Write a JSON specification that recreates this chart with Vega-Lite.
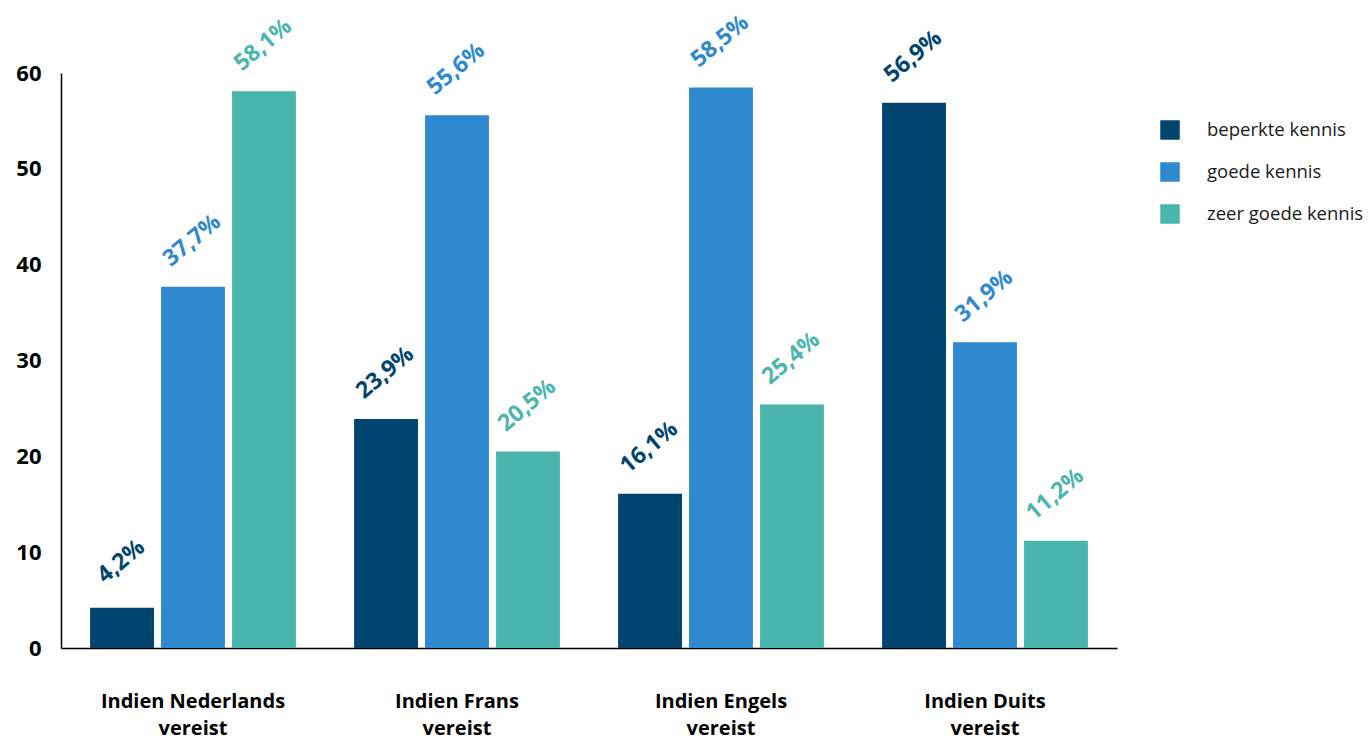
{
  "$schema": "https://vega.github.io/schema/vega-lite/v6.json",
  "width": 1056,
  "height": 575,
  "autosize": {"type": "none"},
  "padding": {"left": 61, "top": 73, "right": 252, "bottom": 91},
  "background": "white",
  "data": {
    "values": [
      {"groep": "Indien Nederlands vereist", "kennis": "beperkte kennis", "pct": 4.2},
      {"groep": "Indien Nederlands vereist", "kennis": "goede kennis", "pct": 37.7},
      {"groep": "Indien Nederlands vereist", "kennis": "zeer goede kennis", "pct": 58.1},
      {"groep": "Indien Frans vereist", "kennis": "beperkte kennis", "pct": 23.9},
      {"groep": "Indien Frans vereist", "kennis": "goede kennis", "pct": 55.6},
      {"groep": "Indien Frans vereist", "kennis": "zeer goede kennis", "pct": 20.5},
      {"groep": "Indien Engels vereist", "kennis": "beperkte kennis", "pct": 16.1},
      {"groep": "Indien Engels vereist", "kennis": "goede kennis", "pct": 58.5},
      {"groep": "Indien Engels vereist", "kennis": "zeer goede kennis", "pct": 25.4},
      {"groep": "Indien Duits vereist", "kennis": "beperkte kennis", "pct": 56.9},
      {"groep": "Indien Duits vereist", "kennis": "goede kennis", "pct": 31.9},
      {"groep": "Indien Duits vereist", "kennis": "zeer goede kennis", "pct": 11.2}
    ]
  },
  "transform": [
    {"calculate": "replace(format(datum.pct, '.1f'), '.', ',') + '%'", "as": "label"}
  ],
  "encoding": {
    "x": {
      "field": "groep",
      "type": "nominal",
      "sort": null,
      "scale": {"paddingInner": 0, "paddingOuter": 0},
      "axis": {
        "title": null,
        "labelAngle": 0,
        "ticks": false,
        "domainColor": "#000000",
        "domainWidth": 1.5,
        "labelExpr": "[replace(datum.label, ' vereist', ''), 'vereist']",
        "labelFont": "Open Sans",
        "labelFontWeight": "bold",
        "labelFontSize": 20,
        "labelColor": "#000000",
        "labelLineHeight": 27,
        "labelPadding": 43,
        "labelLimit": 300,
        "labelBaseline": "top"
      }
    },
    "xOffset": {
      "field": "kennis",
      "type": "nominal",
      "scale": {"paddingInner": 0.1, "paddingOuter": 0.41}
    },
    "y": {
      "field": "pct",
      "type": "quantitative",
      "scale": {"domain": [0, 60], "nice": false},
      "axis": {
        "title": null,
        "values": [0, 10, 20, 30, 40, 50, 60],
        "grid": false,
        "ticks": false,
        "domainColor": "#000000",
        "domainWidth": 1.5,
        "labelFont": "Open Sans",
        "labelFontWeight": "bold",
        "labelFontSize": 22,
        "labelColor": "#000000",
        "labelPadding": 20
      }
    },
    "color": {
      "field": "kennis",
      "type": "nominal",
      "scale": {
        "domain": ["beperkte kennis", "goede kennis", "zeer goede kennis"],
        "range": ["#00446f", "#2f89cf", "#4ab5ac"]
      },
      "legend": {
        "title": null,
        "orient": "none",
        "legendX": 1099,
        "legendY": 47,
        "symbolType": "square",
        "symbolSize": 380,
        "symbolStrokeWidth": 0,
        "symbolOpacity": 1,
        "labelFont": "Open Sans",
        "labelFontSize": 18.5,
        "labelColor": "#1a1a1a",
        "labelOffset": 27,
        "labelLimit": 300,
        "rowPadding": 22
      }
    }
  },
  "layer": [
    {"mark": {"type": "bar"}},
    {
      "mark": {
        "type": "text",
        "angle": -40,
        "align": "center",
        "baseline": "middle",
        "dx": 29,
        "dy": -36,
        "font": "Open Sans",
        "fontWeight": "bold",
        "fontSize": 23
      },
      "encoding": {"text": {"field": "label"}}
    }
  ],
  "config": {"view": {"stroke": null}}
}
